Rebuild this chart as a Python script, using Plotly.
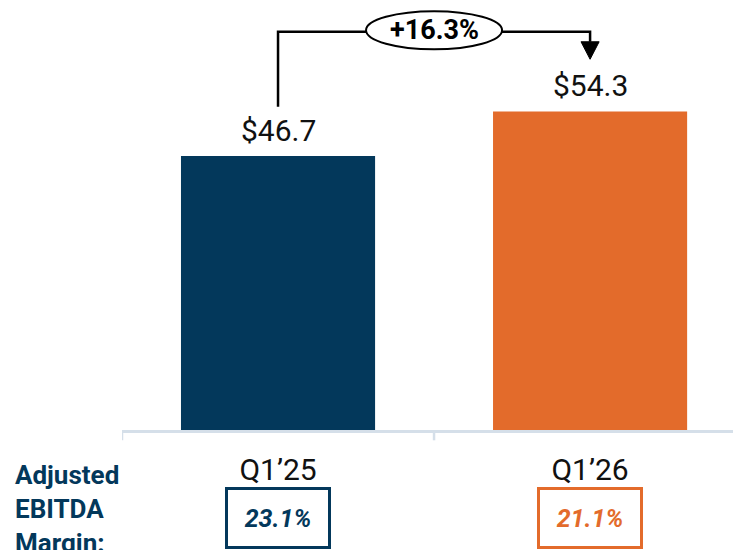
import plotly.graph_objects as go

# Adjusted EBITDA ($M) by quarter
quarters = ["Q1\u201925", "Q1\u201926"]
ebitda = [46.7, 54.3]
value_labels = ["$46.7", "$54.3"]
margins = ["23.1%", "21.1%"]
growth_label = "+16.3%"

NAVY = "#03385B"
ORANGE = "#E36B2B"
AXIS_GREY = "#D5DFE9"
bar_colors = [NAVY, ORANGE]

fig = go.Figure()
fig.add_trace(go.Bar(
    x=[0, 1], y=ebitda, width=0.622,
    marker=dict(color=bar_colors, line=dict(width=0)),
    hoverinfo="skip", showlegend=False,
))

# value labels above the bars
for i, (v, lab) in enumerate(zip(ebitda, value_labels)):
    fig.add_annotation(x=i, y=v, text=lab, showarrow=False, xref="x", yref="y",
                       yanchor="bottom", yshift=6,
                       font=dict(family="Roboto", size=30, color="#111111"))

# growth connector: up from the first label, across, down to the second
left_start = ebitda[0] + 8.4
top_y = max(ebitda) + 13.6
tip_y = ebitda[1] + 8.9
head_h = 2.98
head_hw = 0.029
fig.add_shape(type="path", xref="x", yref="y",
              path=f"M 0 {left_start} L 0 {top_y} L 1 {top_y} L 1 {tip_y + head_h}",
              line=dict(color="black", width=2.5), layer="above")
fig.add_shape(type="path", xref="x", yref="y",
              path=(f"M {1 - head_hw} {tip_y + head_h} L {1 + head_hw} {tip_y + head_h} "
                    f"L 1 {tip_y} Z"),
              line=dict(color="black", width=1), fillcolor="black", layer="above")

# growth badge
mid_x = 0.5
fig.add_shape(type="circle", xref="x", yref="y",
              x0=mid_x - 0.218, x1=mid_x + 0.218,
              y0=top_y - 3.0, y1=top_y + 3.5,
              line=dict(color="black", width=2), fillcolor="white", layer="above")
fig.add_annotation(x=mid_x, y=top_y + 0.25, text=growth_label, showarrow=False,
                   xref="x", yref="y",
                   font=dict(family="Roboto", size=27, color="black", weight="bold"))

# margin boxes under the quarter labels
for i, (m, c) in enumerate(zip(margins, bar_colors)):
    fig.add_annotation(x=i, y=-0.2058, xref="x", yref="paper", yanchor="middle",
                       xanchor="center", text=f"<b><i>{m}</i></b>",
                       showarrow=False, width=100, height=56, borderpad=0,
                       bordercolor=c, borderwidth=3, bgcolor="rgba(0,0,0,0)",
                       font=dict(family="Roboto", size=25, color=c))

fig.add_annotation(x=-0.1785, y=-0.0651, xref="paper", yref="paper",
                   xanchor="left", yanchor="top", align="left", showarrow=False,
                   text="Adjusted<br>EBITDA<br>Margin:",
                   font=dict(family="Roboto", size=26, color=NAVY, weight="bold"))

fig.update_xaxes(
    range=[-0.5, 1.458], tickvals=[0, 1], ticktext=quarters,
    showline=True, linecolor=AXIS_GREY, linewidth=2.5,
    ticks="", showgrid=False, zeroline=False,
    tickfont=dict(family="Roboto", size=30, color="#111111"),
    ticklabelstandoff=11,
)
# category boundary ticks
for bx in [-0.5, 0.5]:
    fig.add_shape(type="line", xref="x", yref="paper", x0=bx, x1=bx, y0=0, y1=-0.024,
                  line=dict(color=AXIS_GREY, width=2.5), layer="below")

fig.update_yaxes(range=[0, 73.3], visible=False)

fig.update_layout(
    width=733, height=550,
    margin=dict(l=122, r=0, t=0, b=120, pad=0),
    paper_bgcolor="white", plot_bgcolor="white",
    font=dict(family="Roboto"),
)

fig.write_html("out.html")
